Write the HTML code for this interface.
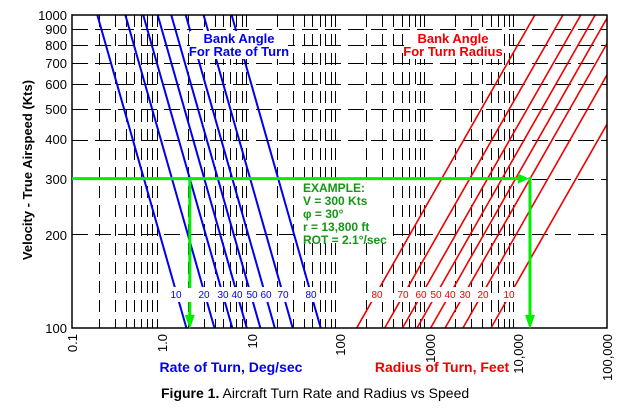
<!DOCTYPE html>
<html><head><meta charset="utf-8"><style>
html,body{margin:0;padding:0;background:#fff;width:624px;height:414px;overflow:hidden}
svg text{font-family:"Liberation Sans",Arial,sans-serif}
</style></head><body>
<svg id="s" width="624" height="414" xmlns="http://www.w3.org/2000/svg">
<rect width="624" height="414" fill="#fff"/>
<g id="grid"></g>
<g id="curves"></g>
<rect x="72" y="15" width="535" height="313" fill="none" stroke="#000" stroke-width="1.5"/>
<!-- label boxes -->
<rect x="190" y="31" width="98" height="28" fill="#fff"/>
<rect x="404" y="31" width="98" height="28" fill="#fff"/>
<rect x="300" y="181" width="92" height="62" fill="#fff"/>
<g fill="#fff">
<rect x="168" y="287" width="16" height="15"/><rect x="196" y="287" width="16" height="15"/><rect x="215" y="287" width="16" height="15"/><rect x="229" y="287" width="16" height="15"/><rect x="244" y="287" width="16" height="15"/><rect x="258" y="287" width="16" height="15"/><rect x="275" y="287" width="16" height="15"/><rect x="303" y="287" width="16" height="15"/>
<rect x="369" y="287" width="16" height="15"/><rect x="395" y="287" width="16" height="15"/><rect x="413" y="287" width="16" height="15"/><rect x="428" y="287" width="16" height="15"/><rect x="442" y="287" width="16" height="15"/><rect x="457" y="287" width="16" height="15"/><rect x="475" y="287" width="16" height="15"/><rect x="501" y="287" width="16" height="15"/>
</g>
<g font-size="13" font-weight="bold" text-anchor="middle">
<text x="239" y="43" fill="#0000ee">Bank Angle</text>
<text x="239" y="56" fill="#0000ee">For Rate of Turn</text>
<text x="453" y="43" fill="#ee0000">Bank Angle</text>
<text x="453" y="56" fill="#ee0000">For Turn Radius</text>
</g>
<g id="green"></g>
<g font-size="12" font-weight="bold" fill="#119911">
<text x="303" y="192">EXAMPLE:</text>
<text x="303" y="205">V = 300 Kts</text>
<text x="303" y="218">φ = 30°</text>
<text x="303" y="231">r = 13,800 ft</text>
<text x="303" y="244">ROT = 2.1°/sec</text>
</g>
<g font-size="10" fill="#0000ee" text-anchor="middle">
<text x="176" y="298">10</text><text x="204" y="298">20</text><text x="223" y="298">30</text><text x="237" y="298">40</text><text x="252" y="298">50</text><text x="266" y="298">60</text><text x="283" y="298">70</text><text x="311" y="298">80</text>
</g>
<g font-size="10" fill="#ee0000" text-anchor="middle">
<text x="377" y="298">80</text><text x="403" y="298">70</text><text x="421" y="298">60</text><text x="436" y="298">50</text><text x="450" y="298">40</text><text x="465" y="298">30</text><text x="483" y="298">20</text><text x="509" y="298">10</text>
</g>
<g font-size="13" text-anchor="end" fill="#000">
<text x="67" y="20">1000</text><text x="67" y="34">900</text><text x="67" y="50">800</text><text x="67" y="68">700</text><text x="67" y="89">600</text><text x="67" y="114">500</text><text x="67" y="144">400</text><text x="67" y="184">300</text><text x="67" y="240">200</text><text x="67" y="333">100</text>
</g>
<g font-size="13" fill="#000" text-anchor="end">
<text transform="translate(77,334) rotate(-90)">0.1</text>
<text transform="translate(167,334) rotate(-90)">1.0</text>
<text transform="translate(257,334) rotate(-90)">10</text>
<text transform="translate(345,334) rotate(-90)">100</text>
<text transform="translate(435,334) rotate(-90)">1000</text>
<text transform="translate(523,334) rotate(-90)">10,000</text>
<text transform="translate(612,334) rotate(-90)">100,000</text>
</g>
<text transform="translate(32,170) rotate(-90)" font-size="13" font-weight="bold" text-anchor="middle">Velocity - True Airspeed (Kts)</text>
<text x="231" y="372" font-size="14" font-weight="bold" fill="#0000ee" text-anchor="middle">Rate of Turn, Deg/sec</text>
<text x="442" y="372" font-size="14" font-weight="bold" fill="#ee0000" text-anchor="middle">Radius of Turn, Feet</text>
<text x="161" y="398" font-size="14" fill="#000"><tspan font-weight="bold">Figure 1.</tspan>  Aircraft Turn Rate and Radius vs Speed</text>
</svg>
<script>
(function(){
var NS="http://www.w3.org/2000/svg";
var X0=72,DX=89.1,Y0=328,DY=313;
function X(v){return X0+DX*(Math.log10(v)+1);}
function Y(v){return Y0-DY*(Math.log10(v)-2);}
function ln(g,x1,y1,x2,y2,st,w,da){var l=document.createElementNS(NS,"line");l.setAttribute("x1",x1);l.setAttribute("y1",y1);l.setAttribute("x2",x2);l.setAttribute("y2",y2);l.setAttribute("stroke",st);l.setAttribute("stroke-width",w);if(da)l.setAttribute("stroke-dasharray",da);g.appendChild(l);}
var g=document.getElementById("grid");
for(var d=-1;d<4;d++)for(var k=2;k<10;k++){var x=Math.round(X(k*Math.pow(10,d)))+0.5;ln(g,x,15,x,328,"#000",1,"12,7");}
for(var k=2;k<10;k++){var y=Math.round(Y(k*100))+0.5;ln(g,72,y,607,y,"#000",1,"16,7");}
var c=document.getElementById("curves");
var cp=document.createElementNS(NS,"clipPath");cp.id="cl";var r=document.createElementNS(NS,"rect");r.setAttribute("x",72);r.setAttribute("y",15);r.setAttribute("width",535);r.setAttribute("height",313);cp.appendChild(r);c.appendChild(cp);c.setAttribute("clip-path","url(#cl)");
[10,20,30,40,50,60,70,80].forEach(function(a){var t=Math.tan(a*Math.PI/180);
ln(c,X(1091*t/1000),Y(1000),X(1091*t/100),Y(100),"#0000ee",2);
ln(c,X(1e6/(11.26*t)),Y(1000),X(1e4/(11.26*t)),Y(100),"#ee0000",1.6);});
var gr=document.getElementById("green");var gx=X(2.1),rx=X(13800),gy=Y(300);
ln(gr,72,gy,rx-6,gy,"#00ee00",3);
ln(gr,gx,gy,gx,326,"#00ee00",3);ln(gr,rx,gy-1.5,rx,326,"#00ee00",3);
function tri(p){var e=document.createElementNS(NS,"polygon");e.setAttribute("points",p);e.setAttribute("fill","#00ee00");gr.appendChild(e);}
tri((rx-1)+","+gy+" "+(rx-12)+","+(gy-5)+" "+(rx-12)+","+(gy+5));
tri(gx+",329 "+(gx-5)+",315 "+(gx+5)+",315");tri(rx+",329 "+(rx-5)+",315 "+(rx+5)+",315");
var w=document.createElementNS(NS,"rect");w.setAttribute("x",gx-3);w.setAttribute("y",288);w.setAttribute("width",6);w.setAttribute("height",14);w.setAttribute("fill","#fff");gr.appendChild(w);
})();
</script>
</body></html>
